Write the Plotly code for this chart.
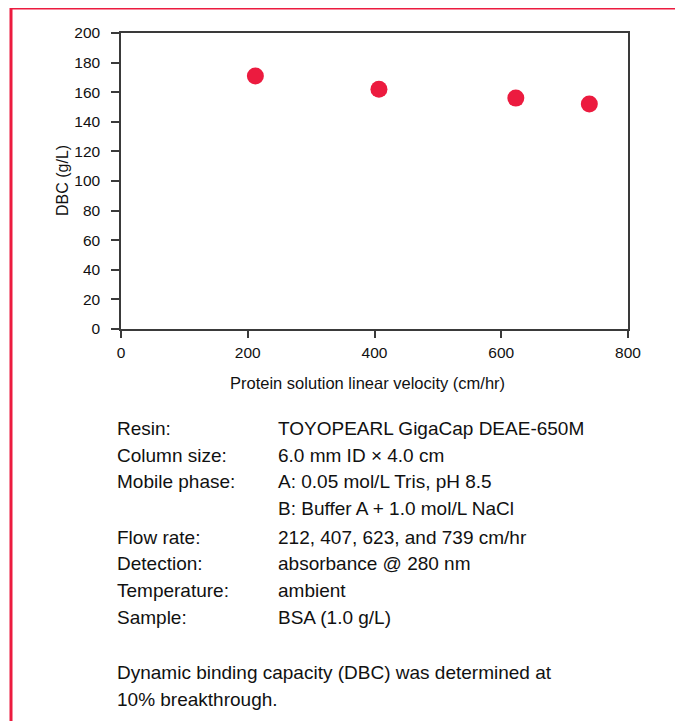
import plotly.graph_objects as go

velocity = [212, 407, 623, 739]
dbc = [171, 162, 156, 152]

x_ticks = [0, 200, 400, 600, 800]
y_ticks = [0, 20, 40, 60, 80, 100, 120, 140, 160, 180, 200]

cond_labels = ["Resin:", "Column size:", "Mobile phase:", "", "Flow rate:",
               "Detection:", "Temperature:", "Sample:"]
cond_values = ["TOYOPEARL GigaCap DEAE-650M", "6.0 mm ID × 4.0 cm",
               "A: 0.05 mol/L Tris, pH 8.5", "B: Buffer A + 1.0 mol/L NaCl",
               "212, 407, 623, and 739 cm/hr", "absorbance @ 280 nm",
               "ambient", "BSA (1.0 g/L)"]
note_lines = ["Dynamic binding capacity (DBC) was determined at",
              "10% breakthrough."]

FONT = "Liberation Sans, Arial, sans-serif"
RED = "#EC1B3F"
AX = "#3a3a3a"

OFF = 8  # page body margin
W, H = 683 - OFF, 721 - OFF
L, R, T, B = 121 - OFF, 628 - OFF, 33 - OFF, 329 - OFF

def px(x):
    return (x - OFF - L) / (R - L)

def py(y):
    return (B - (y - OFF)) / (B - T)

fig = go.Figure()
fig.add_trace(go.Scatter(x=velocity, y=dbc, mode="markers",
                         marker=dict(size=17, color=RED),
                         showlegend=False, hoverinfo="x+y"))

fig.update_layout(
    width=W, height=H,
    margin=dict(l=L, r=W - R, t=T, b=H - B, pad=0),
    paper_bgcolor="white", plot_bgcolor="white",
    font=dict(family=FONT, size=15.5, color="#111"),
    xaxis=dict(range=[0, 800], tickvals=x_ticks, ticks="outside", ticklen=7,
               tickwidth=1.5, tickcolor=AX, showline=True, linecolor=AX,
               linewidth=1.5, mirror=True, showgrid=False, zeroline=False,
               ticklabelstandoff=2,
               tickfont=dict(size=15.5, family=FONT)),
    yaxis=dict(range=[0, 200], tickvals=y_ticks, ticks="outside", ticklen=8,
               tickwidth=1.5, tickcolor=AX, showline=True, linecolor=AX,
               linewidth=1.5, mirror=True, showgrid=False, zeroline=False,
               ticklabelstandoff=8,
               tickfont=dict(size=15.5, family=FONT)),
)

ann = []
ann.append(dict(text="Protein solution linear velocity (cm/hr)", x=px(367), y=py(383),
                xref="paper", yref="paper", showarrow=False,
                font=dict(size=16.5, family=FONT), xanchor="center", yanchor="middle"))
ann.append(dict(text="DBC (g/L)", x=px(62), y=py(181), textangle=-90,
                xref="paper", yref="paper", showarrow=False,
                font=dict(size=16, family=FONT), xanchor="center", yanchor="middle"))

row_y = [429, 455, 481, 508, 537, 563, 590, 617]
for lab, val, yy in zip(cond_labels, cond_values, row_y):
    if lab:
        ann.append(dict(text=lab, x=px(115), y=py(yy), xref="paper", yref="paper",
                        showarrow=False, xanchor="left", yanchor="middle",
                        font=dict(size=19, family=FONT)))
    ann.append(dict(text=val, x=px(276), y=py(yy), xref="paper", yref="paper",
                    showarrow=False, xanchor="left", yanchor="middle",
                    font=dict(size=19, family=FONT)))

for line, yy in zip(note_lines, [672, 700]):
    ann.append(dict(text=line, x=px(115), y=py(yy), xref="paper", yref="paper",
                    showarrow=False, xanchor="left", yanchor="middle",
                    font=dict(size=19, family=FONT)))

fig.update_layout(annotations=ann)

# red frame (top and left edges)
fig.add_shape(type="line", xref="paper", yref="paper",
              x0=px(10), x1=px(700), y0=py(8), y1=py(8),
              line=dict(color=RED, width=3))
fig.add_shape(type="line", xref="paper", yref="paper",
              x0=px(11), x1=px(11), y0=py(7), y1=py(740),
              line=dict(color=RED, width=3))

fig.write_html("out.html")
